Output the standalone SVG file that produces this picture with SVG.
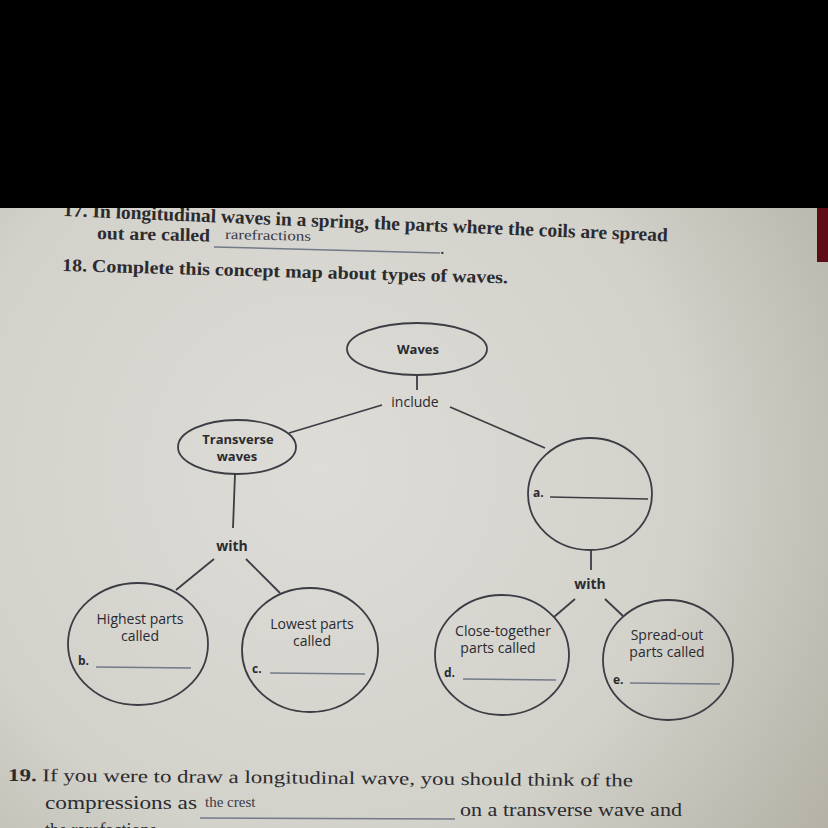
<svg xmlns="http://www.w3.org/2000/svg" width="828" height="828" viewBox="0 0 828 828">
<defs>
<radialGradient id="paper" cx="320" cy="470" r="620" gradientUnits="userSpaceOnUse">
<stop offset="0" stop-color="#dddcd7"/>
<stop offset="0.6" stop-color="#d2d1ca"/>
<stop offset="1" stop-color="#b4b2a6"/>
</radialGradient>
<style>
.node{fill:none;stroke:#3c3c44;stroke-width:1.8}
.conn line{stroke:#3c3c44;stroke-width:1.8}
.blank{stroke:#737987;stroke-width:1.5}
.lbl{font-family:"Open Sans","Liberation Sans",sans-serif;font-size:14px;fill:#2a2a30;text-anchor:middle}
.b{font-weight:bold}
.let{font-family:"Open Sans","Liberation Sans",sans-serif;font-size:12px;font-weight:bold;fill:#2a2a30}
.q{font-family:"Liberation Serif",serif;font-size:18px;fill:#2b2b2e}
.hw{font-family:"Liberation Serif",serif;font-size:14px;fill:#3a3a48}
</style>
</defs>
<rect width="828" height="828" fill="url(#paper)"/>

<g id="q17">
<text class="q b" x="63" y="216" textLength="605" lengthAdjust="spacingAndGlyphs" transform="rotate(2.4 63 216)" style="font-size:19px">17. In longitudinal waves in a spring, the parts where the coils are spread</text>
<text class="q b" x="97" y="239" textLength="113" lengthAdjust="spacingAndGlyphs" transform="rotate(1.2 97 239)">out are called</text>
<text class="hw" x="225" y="239" textLength="86" lengthAdjust="spacingAndGlyphs" transform="rotate(1.2 225 239)">rarefractions</text>
<line x1="214" y1="247" x2="440" y2="253" class="blank"/>
<text class="q" x="440" y="254">.</text>
</g>
<text id="q18" class="q b" x="62" y="271" textLength="446" lengthAdjust="spacingAndGlyphs" transform="rotate(1.6 62 271)">18. Complete this concept map about types of waves.</text>

<rect x="0" y="0" width="828" height="208" fill="#000"/>
<rect x="817" y="208" width="11" height="54" fill="#5e0d16"/>

<g class="conn" id="connectors">
<line x1="417" y1="375" x2="417" y2="390"/>
<line x1="382" y1="405" x2="289" y2="433"/>
<line x1="450" y1="407" x2="545" y2="448"/>
<line x1="235" y1="474" x2="233" y2="528"/>
<line x1="591" y1="550" x2="591" y2="570"/>
<line x1="214" y1="559" x2="176" y2="590"/>
<line x1="246" y1="559" x2="280" y2="593"/>
<line x1="575" y1="599" x2="554" y2="617"/>
<line x1="605" y1="599" x2="623" y2="616"/>
<text class="lbl" x="415" y="407">include</text>
<text class="lbl b" x="232" y="551">with</text>
<text class="lbl b" x="590" y="589">with</text>
</g>

<g id="waves">
<ellipse class="node" cx="417" cy="349" rx="70" ry="26"/>
<text class="lbl b" x="418" y="354" style="font-size:13px">Waves</text>
</g>
<g id="transverse">
<ellipse class="node" cx="237" cy="447" rx="59" ry="27"/>
<text class="lbl b" x="238" y="444" style="font-size:13px">Transverse</text>
<text class="lbl b" x="237" y="461" style="font-size:13px">waves</text>
</g>
<g id="a">
<ellipse class="node" cx="590" cy="494" rx="62" ry="56"/>
<text class="let" x="533" y="497">a.</text>
<line class="blank" x1="550" y1="497" x2="648" y2="499" style="stroke:#3c3c44"/>
</g>
<g id="b">
<ellipse class="node" cx="138" cy="644" rx="70" ry="61"/>
<text class="lbl" x="140" y="624">Highest parts</text>
<text class="lbl" x="140" y="641">called</text>
<text class="let" x="78" y="665">b.</text>
<line class="blank" x1="96" y1="667" x2="191" y2="668"/>
</g>
<g id="c">
<ellipse class="node" cx="310" cy="650" rx="68" ry="62"/>
<text class="lbl" x="312" y="629">Lowest parts</text>
<text class="lbl" x="312" y="646">called</text>
<text class="let" x="252" y="673">c.</text>
<line class="blank" x1="270" y1="673" x2="365" y2="674"/>
</g>
<g id="d">
<ellipse class="node" cx="502" cy="655" rx="67" ry="60"/>
<text class="lbl" x="503" y="636">Close-together</text>
<text class="lbl" x="498" y="653">parts called</text>
<text class="let" x="444" y="677">d.</text>
<line class="blank" x1="463" y1="679" x2="556" y2="680"/>
</g>
<g id="e">
<ellipse class="node" cx="668" cy="660" rx="65" ry="60"/>
<text class="lbl" x="667" y="640">Spread-out</text>
<text class="lbl" x="667" y="657">parts called</text>
<text class="let" x="613" y="684">e.</text>
<line class="blank" x1="630" y1="683" x2="720" y2="684"/>
</g>

<g id="q19">
<text class="q" x="8" y="781" textLength="625" lengthAdjust="spacingAndGlyphs" transform="rotate(0.5 8 781)"><tspan font-weight="bold">19.</tspan> If you were to draw a longitudinal wave, you should think of the</text>
<text class="q" x="45" y="809" textLength="152" lengthAdjust="spacingAndGlyphs">compressions as</text>
<text class="hw" x="205" y="807" style="font-size:15px">the crest</text>
<line class="blank" x1="200" y1="818" x2="455" y2="819"/>
<text class="q" x="460" y="816" textLength="222" lengthAdjust="spacingAndGlyphs">on a transverse wave and</text>
<text class="q" x="45" y="836">the rarefactions</text>
</g>
</svg>
